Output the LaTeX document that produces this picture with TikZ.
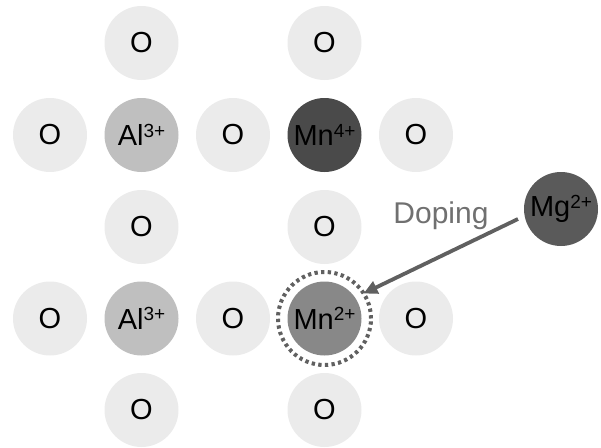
\documentclass[tikz,border=0pt]{standalone}
\usepackage{fontspec}
\setmainfont{Liberation Sans}
\usetikzlibrary{calc,arrows.meta}
\definecolor{ocol}{HTML}{EBEBEB}
\definecolor{alcol}{HTML}{BFBFBF}
\definecolor{mnfour}{HTML}{4A4A4A}
\definecolor{mntwo}{HTML}{888888}
\definecolor{mgcol}{HTML}{5A5A5A}
\definecolor{dopecol}{HTML}{707070}
\definecolor{arrcol}{HTML}{606060}
\newcommand\ionsup[1]{\raisebox{8.5pt}{\fontsize{19}{19}\selectfont #1}}
\tikzset{
  atom/.style={circle, minimum size=74pt, inner sep=0pt, font=\fontsize{29}{29}\selectfont, text=black},
  oatom/.style={atom, fill=ocol},
  alatom/.style={atom, fill=alcol},
  dopering/.style={draw=arrcol, line width=4pt, dash pattern=on 3.3pt off 3.35pt},
  dopearrow/.style={draw=arrcol, line width=3.8pt, -{Triangle[length=14pt,width=13pt]}},
}
\begin{document}
\begin{tikzpicture}[x=1pt,y=-1pt]
\useasboundingbox (0,0) rectangle (601,447);
\node[oatom] (o1) at (141.5,43) {O};
\node[oatom] (o2) at (324.5,43) {O};
\node[oatom] (o3) at (50,135) {O};
\node[alatom] (al1) at (141.5,135) {Al\ionsup{3+}};
\node[oatom] (o4) at (233,135) {O};
\node[atom, fill=mnfour] (mn4) at (324.5,135) {Mn\ionsup{4+}};
\node[oatom] (o5) at (416,135) {O};
\node[oatom] (o6) at (141.5,227) {O};
\node[oatom] (o7) at (324.5,227) {O};
\node[oatom] (o8) at (50,318.5) {O};
\node[alatom] (al2) at (141.5,318.5) {Al\ionsup{3+}};
\node[oatom] (o9) at (233,318.5) {O};
\node[atom, fill=mntwo] (mn2) at (324.5,318.5) {Mn\ionsup{2+}};
\node[oatom] (o10) at (416,318.5) {O};
\node[oatom] (o11) at (141.5,410) {O};
\node[oatom] (o12) at (324.5,410) {O};
\node[atom, fill=mgcol] (mg) at (561,209) {Mg\ionsup{2+}};
\node[circle, dopering, minimum size=93pt, inner sep=0pt] (ring) at (mn2) {};
\node[text=dopecol, font=\fontsize{30}{30}\selectfont] (dop) at (441,216) {Doping};
\draw[dopearrow] ($(mg)+(-43,10)$) -- ($(mn2)+(39,-25)$);
\end{tikzpicture}
\end{document}
